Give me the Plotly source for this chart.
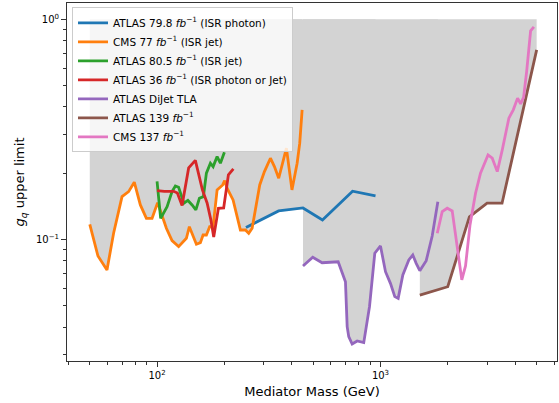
import plotly.graph_objects as go

# ---------------- data ----------------
atlas_photon_x = [250, 350, 450, 550, 750, 950]
atlas_photon_y = [0.1134, 0.1348, 0.139, 0.1227, 0.1656, 0.1576]

cms77_x = [50, 54.4, 59.7, 63.9, 69.7, 74.6, 79.1, 84.2, 89.6, 95.0, 100.6, 110.1,
           116.7, 124.9, 135.3, 139.5, 150.0, 156.3, 160.7, 166.3, 172.0, 178.2,
           185.7, 196.7, 200.7, 205.8, 218.9, 236.1, 248.6, 257.2, 266.4, 288.1,
           302.4, 321.7, 335.2, 350.4, 379.3, 401.6, 423.6, 435.1, 446.0]
cms77_y = [0.117, 0.0841, 0.0727, 0.1067, 0.1565, 0.1649, 0.182, 0.1435, 0.1248,
           0.1248, 0.147, 0.1124, 0.0988, 0.0928, 0.1013, 0.1143, 0.0951, 0.0967,
           0.1048, 0.1048, 0.1143, 0.1143, 0.1679, 0.1769, 0.185, 0.1709, 0.1512,
           0.1104, 0.1104, 0.1067, 0.1124, 0.1769, 0.2033, 0.2339, 0.2142, 0.1897,
           0.2598, 0.1679, 0.222, 0.2738, 0.3879]

atlas_jet_x = [100, 103.8, 110.9, 116.7, 120.8, 124.9, 131.8, 137.4, 143.5, 149.2,
               154.7, 161.2, 166.3, 173.3, 178.2, 185.7, 192.1, 200.2]
atlas_jet_y = [0.1835, 0.1246, 0.141, 0.1649, 0.175, 0.1726, 0.1461, 0.1504, 0.1435,
               0.1362, 0.1539, 0.1565, 0.2, 0.222, 0.2142, 0.2378, 0.222, 0.249]

atlas36_x = [100, 107.8, 118.7, 123.3, 129.4, 138.5, 148.4, 159.6, 167.5, 174.2,
             179.3, 188.2, 198.7, 208.6, 219.6]
atlas36_y = [0.1666, 0.1652, 0.1655, 0.1627, 0.1427, 0.2113, 0.2286, 0.1679, 0.1465,
             0.1227, 0.1026, 0.1386, 0.139, 0.1965, 0.2091]

tla_x = [450, 497.5, 548, 646.6, 697, 709.4, 721, 746.8, 786.4, 841.6, 892.8, 943,
         1000, 1053, 1108, 1159, 1200, 1259, 1339, 1395, 1445, 1500, 1602, 1704, 1806]
tla_y = [0.0758, 0.083, 0.0784, 0.0792, 0.0643, 0.0402, 0.0362, 0.0335, 0.0346,
         0.034, 0.0495, 0.0866, 0.0934, 0.0714, 0.0632, 0.055, 0.054, 0.069, 0.0807,
         0.085, 0.0779, 0.0721, 0.0801, 0.1037, 0.1485]

atlas139_x = [1500, 2000, 2500, 3000, 3500, 5000]
atlas139_y = [0.0559, 0.061, 0.1266, 0.1461, 0.1461, 0.7266]

cms137_x = [1795, 1889, 1989, 2094, 2312, 2402, 2516, 2663, 2803, 3029, 3164, 3332,
            3508, 3755, 3930, 4108, 4237, 4370, 4509, 4624, 4698, 4860]
cms137_y = [0.1067, 0.1338, 0.1386, 0.1348, 0.0655, 0.0758, 0.1164, 0.1622, 0.2,
            0.2421, 0.2339, 0.2033, 0.2551, 0.3556, 0.3879, 0.4384, 0.413, 0.442,
            0.5775, 0.7266, 0.8866, 0.9245]

fill_upper = 1.0  # excluded region extends up to g_q = 1

series_names = [
    "ATLAS 79.8 <i>fb</i><sup>−1</sup> (ISR photon)",
    "CMS 77 <i>fb</i><sup>−1</sup> (ISR jet)",
    "ATLAS 80.5 <i>fb</i><sup>−1</sup> (ISR jet)",
    "ATLAS 36 <i>fb</i><sup>−1</sup> (ISR photon or Jet)",
    "ATLAS DiJet TLA",
    "ATLAS 139 <i>fb</i><sup>−1</sup>",
    "CMS 137 <i>fb</i><sup>−1</sup>",
]

x_tickvals = [100, 1000]
x_ticktext = ["10<sup>2</sup>", "10<sup>3</sup>"]
y_tickvals = [0.1, 1]
y_ticktext = ["10<sup>−1</sup>", "10<sup>0</sup>"]

# ---------------- styling ----------------
colors = ["#1f77b4", "#ff7f0e", "#2ca02c", "#d62728", "#9467bd", "#8c564b", "#e377c2"]
FONT = "DejaVu Sans"

series = [
    (atlas_photon_x, atlas_photon_y),
    (cms77_x, cms77_y),
    (atlas_jet_x, atlas_jet_y),
    (atlas36_x, atlas36_y),
    (tla_x, tla_y),
    (atlas139_x, atlas139_y),
    (cms137_x, cms137_y),
]
filled = [0, 1, 4, 5]

fig = go.Figure()

for i in filled:
    xs, ys = series[i]
    fig.add_trace(go.Scatter(
        x=list(xs) + list(xs)[::-1],
        y=list(ys) + [fill_upper] * len(xs),
        mode="lines", fill="toself", fillcolor="#d3d3d3",
        line=dict(width=0, color="rgba(0,0,0,0)"),
        showlegend=False, hoverinfo="skip"))

for (xs, ys), name, c in zip(series, series_names, colors):
    fig.add_trace(go.Scatter(x=xs, y=ys, mode="lines", name=name,
                             line=dict(color=c, width=2.8)))

minor_x = [40, 50, 60, 70, 80, 90, 200, 300, 400, 500, 600, 700, 800, 900,
           2000, 3000, 4000, 5000, 6000]
minor_y = [0.03, 0.04, 0.05, 0.06, 0.07, 0.08, 0.09, 0.2, 0.3, 0.4, 0.5, 0.6,
           0.7, 0.8, 0.9]

axis_common = dict(showline=True, mirror=True, linecolor="#333", linewidth=1,
                   ticks="outside", ticklen=5, tickcolor="#333", showgrid=False,
                   zeroline=False, tickfont=dict(family=FONT, size=10, color="#000"))

fig.update_layout(
    width=559, height=403,
    margin=dict(l=67, r=2, t=3, b=42),
    paper_bgcolor="white", plot_bgcolor="white",
    font=dict(family=FONT, size=10, color="#000"),
    xaxis=dict(type="log", range=[1.597, 3.790], tickvals=x_tickvals,
               ticktext=x_ticktext,
               minor=dict(tickvals=minor_x, ticks="outside", ticklen=3,
                          tickcolor="#333"),
               title=dict(text="Mediator Mass (GeV)", standoff=6,
                          font=dict(family=FONT, size=13, color="#000")),
               **axis_common),
    yaxis=dict(type="log", range=[-1.552, 0.074], tickvals=y_tickvals,
               ticktext=y_ticktext,
               minor=dict(tickvals=minor_y, ticks="outside", ticklen=3,
                          tickcolor="#333"),
               title=dict(text="<i>g</i><sub><i>q</i></sub> upper limit", standoff=8,
                          font=dict(family=FONT, size=13, color="#000")),
               **axis_common),
    legend=dict(x=0.0102, y=0.988, xanchor="left", yanchor="top",
                bgcolor="rgba(255,255,255,0.8)", bordercolor="#cccccc",
                borderwidth=1, font=dict(family=FONT, size=10.5, color="#000"),
                itemwidth=30, tracegroupgap=0),
    showlegend=True,
)

fig.write_html("out.html")
